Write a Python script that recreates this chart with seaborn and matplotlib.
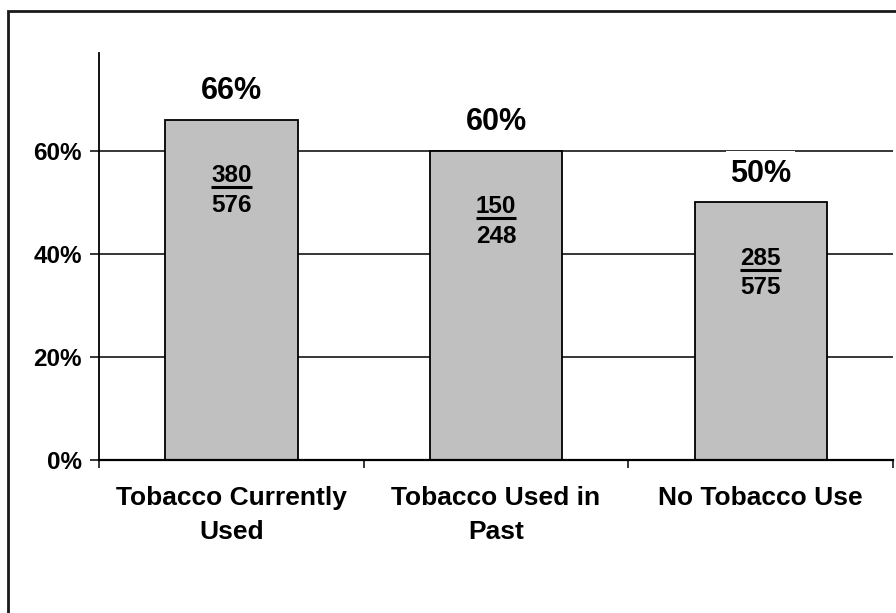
import matplotlib
matplotlib.use("Agg")
import matplotlib.pyplot as plt
from matplotlib.lines import Line2D
from matplotlib.patches import Rectangle
from matplotlib.transforms import IdentityTransform
from matplotlib.ticker import FixedLocator, PercentFormatter
import seaborn as sns
import pandas as pd

# Data
categories = ["Tobacco Currently\nUsed", "Tobacco Used in\nPast", "No Tobacco Use"]
numerators = [380, 150, 285]
denominators = [576, 248, 575]
shares = [0.66, 0.60, 0.50]
y_ticks = [0.0, 0.2, 0.4, 0.6]

sns.set_theme(style="white")
plt.rcParams["font.family"] = ["Liberation Sans", "DejaVu Sans"]
plt.rcParams["font.weight"] = "bold"

fig = plt.figure(figsize=(8.96, 6.13), dpi=100)
fig.patch.set_facecolor("white")
ax = fig.add_axes([99 / 896, 1 - 460 / 613, (893 - 99) / 896, (460 - 53) / 613])

df = pd.DataFrame({"group": categories, "share": shares})
sns.barplot(data=df, x="group", y="share", color="#c0c0c0", saturation=1,
            width=0.5, edgecolor="black", linewidth=1.3, ax=ax, zorder=2)

ax.set_xlim(-0.5, len(categories) - 0.5)
ax.set_ylim(0, 0.79)
ax.set_xlabel("")
ax.set_ylabel("")
ax.set_facecolor("white")

# Axes styling
for side in ("top", "right"):
    ax.spines[side].set_visible(False)
ax.spines["left"].set_color("black")
ax.spines["left"].set_linewidth(1.3)
ax.spines["bottom"].set_color("black")
ax.spines["bottom"].set_linewidth(1.6)

ax.yaxis.set_major_locator(FixedLocator(y_ticks))
ax.yaxis.set_major_formatter(PercentFormatter(1.0, decimals=0))
ax.tick_params(axis="y", left=True, length=6.5, width=1.1, color="black",
               pad=6, labelsize=17.5, labelcolor="black")
ax.tick_params(axis="x", bottom=True, length=0, pad=19, labelsize=19,
               labelcolor="black")
ax.set_xticks(range(len(categories)))
ax.set_xticklabels(categories, fontweight="bold", linespacing=1.5)
ax.set_xticks([i - 0.5 for i in range(len(categories) + 1)], minor=True)
ax.tick_params(axis="x", which="minor", bottom=True, length=6, width=1.1,
               color="black", direction="out")
for lbl in ax.get_yticklabels():
    lbl.set_fontweight("bold")

ax.yaxis.grid(True, color="black", linewidth=1.1)
ax.xaxis.grid(False)
ax.set_axisbelow(True)

# Percentage above each bar, fraction inside each bar
pct_texts = []
num_texts = []
for i, (p, n, d) in enumerate(zip(shares, numerators, denominators)):
    tp = ax.annotate(f"{p:.0%}", xy=(i, p), xytext=(0, 15), textcoords="offset points",
                     ha="center", va="baseline", fontsize=22, fontweight="bold",
                     color="black", zorder=5)
    pct_texts.append(tp)
    t = ax.annotate(f"{n}", xy=(i, p), xytext=(0, -45), textcoords="offset points",
                    ha="center", va="baseline", fontsize=17.5, fontweight="bold",
                    color="black", zorder=5)
    ax.annotate(f"{d}", xy=(i, p), xytext=(0, -66), textcoords="offset points",
                ha="center", va="baseline", fontsize=17.5, fontweight="bold",
                color="black", zorder=5)
    num_texts.append((i, p, t))

fig.canvas.draw()
renderer = fig.canvas.get_renderer()

# White label backgrounds that break the gridlines behind the percentages
for tp in pct_texts:
    bb = tp.get_window_extent(renderer)
    ax.add_patch(Rectangle((bb.x0 - 4, bb.y0), bb.width + 8, bb.height + 8,
                           transform=IdentityTransform(), facecolor="white",
                           edgecolor="none", zorder=4, clip_on=False))

# Underline the numerators
for i, p, t in num_texts:
    bb = t.get_window_extent(renderer)
    ax_x, ax_y = ax.transData.transform((i, p))
    base_y = ax_y - 45 * fig.dpi / 72
    ax.add_line(Line2D([bb.x0, bb.x1], [base_y - 5, base_y - 5],
                       transform=IdentityTransform(), color="black",
                       linewidth=2.2, solid_capstyle="butt", zorder=5,
                       clip_on=False))

# Outer frame of the chart area
fig.add_artist(Rectangle((8 / 896, -0.1), 1.2, 1.1 - 11.5 / 613,
                         transform=fig.transFigure, facecolor="none",
                         edgecolor="#1a1a1a", linewidth=2.0, clip_on=False))

fig.savefig("out.png", dpi=100)
